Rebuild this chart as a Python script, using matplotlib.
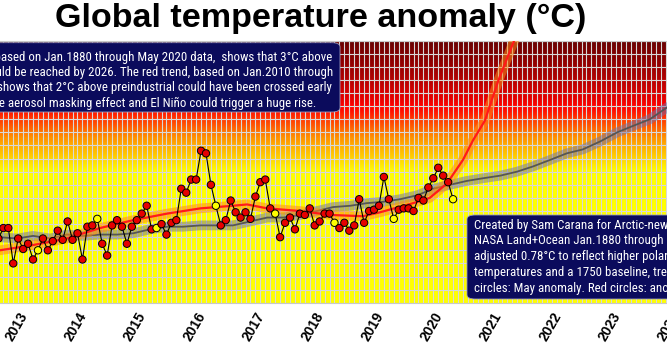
"""
Global temperature anomaly chart (NASA Land+Ocean, adjusted to a 1750 baseline)
with two trends and monthly anomaly circles.
"""

import matplotlib
matplotlib.use("Agg")
import matplotlib.pyplot as plt
import numpy as np
from matplotlib import font_manager
from matplotlib.colors import LinearSegmentedColormap
from matplotlib.font_manager import FontProperties
from matplotlib.patches import FancyBboxPatch

# ---- data -------------------------------------------------------------
# monthly anomalies (°C), Sep 2012 .. May 2020
first_year, first_month = 2012, 9
anomalies = [
    1.49, 1.57, 1.57, 1.30,                                            # 2012
    1.49, 1.41, 1.45, 1.33, 1.40, 1.49, 1.40, 1.47, 1.55, 1.48, 1.62, 1.48,  # 2013
    1.53, 1.33, 1.58, 1.59, 1.64, 1.45, 1.36, 1.59, 1.63, 1.58, 1.45, 1.58,  # 2014
    1.63, 1.68, 1.74, 1.56, 1.57, 1.60, 1.52, 1.61, 1.63, 1.87, 1.84, 1.94,  # 2015
    1.94, 2.16, 2.14, 1.90, 1.74, 1.59, 1.63, 1.78, 1.69, 1.65, 1.69, 1.64,  # 2016
    1.81, 1.92, 1.94, 1.72, 1.68, 1.50, 1.61, 1.65, 1.56, 1.68, 1.67, 1.72,  # 2017
    1.59, 1.62, 1.68, 1.68, 1.61, 1.57, 1.61, 1.55, 1.59, 1.79, 1.61, 1.70,  # 2018
    1.71, 1.74, 1.96, 1.79, 1.64, 1.71, 1.72, 1.72, 1.70, 1.80, 1.78, 1.88,  # 2019
    1.95, 2.03, 1.97, 1.92, 1.79,                                      # 2020
]

# long-term trend (Jan.1880 - May 2020 fit)
blue_years = [2012.69, 2012.98, 2013.25, 2013.54, 2013.82, 2014.09, 2014.38,
              2014.67, 2014.94, 2015.22, 2015.51, 2015.78, 2016.07, 2016.35,
              2016.62, 2016.91, 2017.20, 2017.47, 2017.75, 2018.04, 2018.31,
              2018.60, 2018.88, 2019.15, 2019.44, 2019.73, 2020.00, 2020.28,
              2020.57, 2020.84, 2021.13, 2021.41, 2021.68, 2021.97, 2022.25,
              2022.52, 2022.81, 2023.10, 2023.37, 2023.65, 2023.94, 2024.10]
blue_values = [1.50, 1.49, 1.51, 1.49, 1.52, 1.51, 1.52,
               1.52, 1.53, 1.56, 1.58, 1.58, 1.59, 1.59,
               1.59, 1.62, 1.65, 1.65, 1.67, 1.70, 1.73,
               1.74, 1.76, 1.77, 1.79, 1.82, 1.87, 1.90,
               1.93, 1.95, 1.97, 2.00, 2.04, 2.09, 2.14,
               2.17, 2.23, 2.30, 2.35, 2.40, 2.49, 2.53]

# short-term trend (Jan.2010 - May 2020 fit)
red_years = [2012.69, 2013.25, 2013.82, 2014.38, 2014.94, 2015.51, 2016.07,
             2016.62, 2016.86, 2017.20, 2017.75, 2018.26, 2018.81, 2019.10,
             2019.66, 2019.94, 2020.23, 2020.50, 2020.67, 2020.87, 2021.10,
             2021.45]
red_values = [1.40, 1.44, 1.49, 1.57, 1.63, 1.68, 1.72,
              1.74, 1.75, 1.72, 1.70, 1.67, 1.66, 1.69,
              1.76, 1.80, 1.91, 2.09, 2.24, 2.39, 2.70,
              3.10]

year_ticks = list(range(2013, 2025))

title = "Global temperature anomaly (°C)"
note_left = [
    "The blue trend, based on Jan.1880 through May 2020 data,  shows that 3°C above",
    "preindustrial could be reached by 2026. The red trend, based on Jan.2010 through",
    "May 2020 data, shows that 2°C above preindustrial could have been crossed early",
    "2021. Loss of the aerosol masking effect and El Niño could trigger a huge rise.",
]
note_right = [
    "Created by Sam Carana for Arctic-news.blogspot.com with",
    "NASA Land+Ocean Jan.1880 through May 2020 data,",
    "adjusted 0.78°C to reflect higher polar anomalies, ocean air",
    "temperatures and a 1750 baseline, trends added. Yellow",
    "circles: May anomaly. Red circles: anomalies other months.",
]

W, H = 667, 350
PX_PER_YEAR = 59.3
X_LEFT = 2012.6931          # year at the left edge of the picture
AX_W = 690                  # axes run a bit past the right edge (crop)
XLIM = (X_LEFT, X_LEFT + AX_W / PX_PER_YEAR)
YLIM = (1.0, 3.0)


def narrow_font():
    """Looks for an installed condensed sans face, else plain Liberation Sans."""
    entries = font_manager.fontManager.ttflist

    def regular(f):
        return f.style == "normal" and f.weight in (400, "normal", "regular", "book")

    for name in ("Liberation Sans Narrow", "Arial Narrow", "Roboto Condensed",
                 "Noto Sans Condensed", "Open Sans Condensed", "DejaVu Sans Condensed"):
        for f in entries:
            if f.name == name and regular(f):
                return FontProperties(fname=f.fname)
    for fam in ("Roboto", "Noto Sans", "Open Sans", "DejaVu Sans"):
        for f in entries:
            if f.name == fam and regular(f) and "condensed" in str(f.stretch):
                return FontProperties(fname=f.fname)
    return FontProperties(family="Liberation Sans")


def text_width(fig, s, prop):
    t = fig.text(0, 0, s, fontproperties=prop)
    w = t.get_window_extent(fig.canvas.get_renderer()).width
    t.remove()
    return w


def plot(output_file="out.png"):
    fig = plt.figure(figsize=(W / 100, H / 100), dpi=100)
    fig.patch.set_facecolor("white")
    ax = fig.add_axes([0, 47.3 / H, AX_W / W, 262 / H])

    # background: yellow below 2°C, through orange and red to dark red at 3°C
    cmap = LinearSegmentedColormap.from_list("heat", [
        (0.0, "#ffff00"), (0.5, "#ffff00"), (0.625, "#ff9900"),
        (0.75, "#ff0000"), (0.86, "#b00000"), (1.0, "#680000")])
    grad = np.linspace(YLIM[0], YLIM[1], 500).reshape(-1, 1)
    ax.imshow(np.tile(grad, (1, 2)), extent=[XLIM[0], XLIM[1], YLIM[0], YLIM[1]],
              origin="lower", cmap=cmap, vmin=YLIM[0], vmax=YLIM[1],
              aspect="auto", interpolation="nearest", zorder=0)

    # trends
    ax.plot(blue_years, blue_values, color="#7070a8", alpha=0.5, lw=7,
            solid_capstyle="round", zorder=2)
    ax.plot(blue_years, blue_values, color="#555555", lw=1.3, zorder=3)
    ax.plot(red_years, red_values, color="#ff8c1a", alpha=0.55, lw=7,
            solid_capstyle="round", zorder=3.5)
    ax.plot(red_years, red_values, color="#ff1a1a", lw=1.6, zorder=4)

    # monthly anomalies
    months = [first_month + i for i in range(len(anomalies))]
    t = [first_year + (m - 1) / 12 for m in months]
    is_may = [(m - 1) % 12 == 4 for m in months]
    ax.plot(t, anomalies, color="black", lw=0.8, zorder=5)
    ax.scatter(t, anomalies, s=28, zorder=6, linewidths=0.7, edgecolors="black",
               c=["#ffff00" if may else "#e60000" for may in is_may])

    ax.set_xticks(year_ticks)
    ax.set_xticklabels([str(y) for y in year_ticks], rotation=60, ha="right",
                       rotation_mode="anchor", fontsize=10, fontweight="bold",
                       family="Liberation Sans")
    ax.set_xticks(np.arange(2012 + 9 / 12, XLIM[1], 1 / 12), minor=True)
    ax.set_yticks(np.arange(1.0, 3.001, 0.1))
    # limits after the ticks, set_xticks would widen them
    ax.set_xlim(*XLIM)
    ax.set_ylim(*YLIM)
    ax.tick_params(axis="x", which="both", length=0, pad=5)
    ax.tick_params(axis="y", left=False, labelleft=False)
    ax.grid(True, which="both", color="#d8d8d8", lw=0.8)
    for side in ("left", "right"):
        ax.spines[side].set_visible(False)
    for side in ("top", "bottom"):
        ax.spines[side].set_color("#c8c8c8")

    fig.text(321 / W, 1 - 19 / H, title, ha="center", va="center",
             fontsize=24.6, fontweight="bold", family="Liberation Sans")

    # text boxes (partly outside the figure, as in the original crop)
    prop = narrow_font()
    prop.set_size(10)
    # size so that "Created by Sam Carana for Arctic-new" is ~192 px wide
    size = 10 * 192 / text_width(fig, "Created by Sam Carana for Arctic-new", prop)
    prop.set_size(size)

    box1 = FancyBboxPatch((-20 / W, 1 - 112 / H), 360 / W, 69.3 / H,
                          boxstyle="round,pad=0,rounding_size=0.012",
                          transform=fig.transFigure, facecolor="#0b0b5c",
                          edgecolor="#9999bb", lw=0.6, zorder=10)
    fig.add_artist(box1)
    left_x = 333 - max(text_width(fig, s, prop) for s in note_left)
    for i, line in enumerate(note_left):
        fig.text(left_x / W, 1 - (57.5 + 15.2 * i) / H, line, ha="left",
                 va="center", color="white", fontproperties=prop, zorder=11)

    box2 = FancyBboxPatch((467 / W, 1 - 299 / H), 260 / W, 84 / H,
                          boxstyle="round,pad=0,rounding_size=0.012",
                          transform=fig.transFigure, facecolor="#0b0b5c",
                          edgecolor="#9999bb", lw=0.6, zorder=10)
    fig.add_artist(box2)
    for i, line in enumerate(note_right):
        fig.text(474 / W, 1 - (225 + 15.8 * i) / H, line, ha="left",
                 va="center", color="white", fontproperties=prop, zorder=11)

    fig.savefig(output_file, dpi=100)
    plt.close(fig)


if __name__ == "__main__":
    plot("out.png")
